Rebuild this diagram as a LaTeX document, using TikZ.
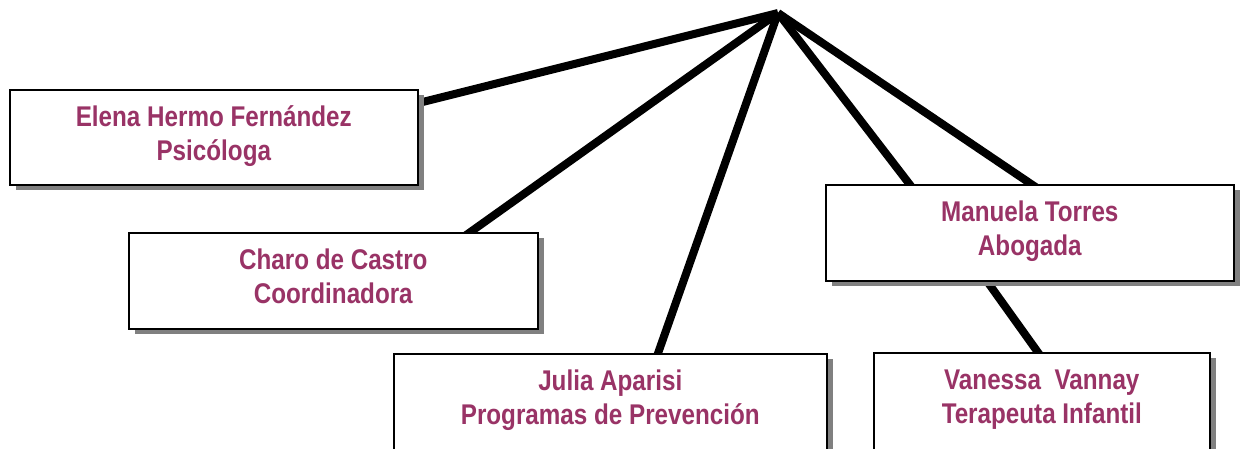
\documentclass[tikz,border=0pt]{standalone}
\usepackage{fontspec}
\setmainfont{Liberation Sans}[FakeStretch=0.85]
\usetikzlibrary{calc,shadows}
\definecolor{plum}{RGB}{153,51,102}
\pgfdeclarelayer{bg}
\pgfsetlayers{bg,main}
\begin{document}
\begin{tikzpicture}[x=1pt,y=-1pt,
  box/.style={draw=black, line width=1.6pt, fill=white, rectangle, inner sep=0pt,
    anchor=north west,
    drop shadow={shadow xshift=6pt, shadow yshift=-5pt, fill=black!50, opacity=1}},
  lbl/.style={text=plum, align=center, anchor=base, inner sep=0pt,
    font=\fontsize{28.5}{33.3}\selectfont\bfseries},
  conn/.style={draw=black, line width=8pt}]
\useasboundingbox (0,0) rectangle (1243,448);
\clip (0,0) rectangle (1243,448);
\coordinate (apex) at (778,13);
\node[box, minimum width=408, minimum height=95] (elena) at (9,89) {};
\node[box, minimum width=409, minimum height=96] (charo) at (128,232) {};
\node[box, minimum width=433, minimum height=110] (julia) at (393,353) {};
\node[box, minimum width=408, minimum height=96] (manuela) at (825,184) {};
\node[box, minimum width=336, minimum height=110] (vanessa) at (873,352) {};
\node[lbl] (elenaT) at ($(elena.north)+(0,71)$) {Elena Hermo Fernández\\Psicóloga};
\node[lbl] (charoT) at ($(charo.north)+(0,71)$) {Charo de Castro\\Coordinadora};
\node[lbl] (juliaT) at ($(julia.north)+(0,71)$) {Julia Aparisi\\Programas de Prevención};
\node[lbl] (manuelaT) at ($(manuela.north)+(0,71)$) {Manuela Torres\\Abogada};
\node[lbl] (vanessaT) at ($(vanessa.north)+(0,71)$) {Vanessa\ \ Vannay\\Terapeuta Infantil};
\begin{pgfonlayer}{bg}
\draw[conn] (apex) -- ($(elena.north east)+(-10,16.5)$);
\draw[conn] (apex) -- ($(charo.north west)+(334,6)$);
\draw[conn] (apex) -- ($(julia.north west)+(263,6)$);
\draw[conn] (apex) -- ($(manuela.north west)+(89,6)$);
\draw[conn] (apex) -- ($(manuela.north west)+(215,6)$);
\draw[conn] ($(manuela.south west)+(158,-6)$) -- ($(vanessa.north west)+(169,6)$);
\end{pgfonlayer}
\end{tikzpicture}
\end{document}
